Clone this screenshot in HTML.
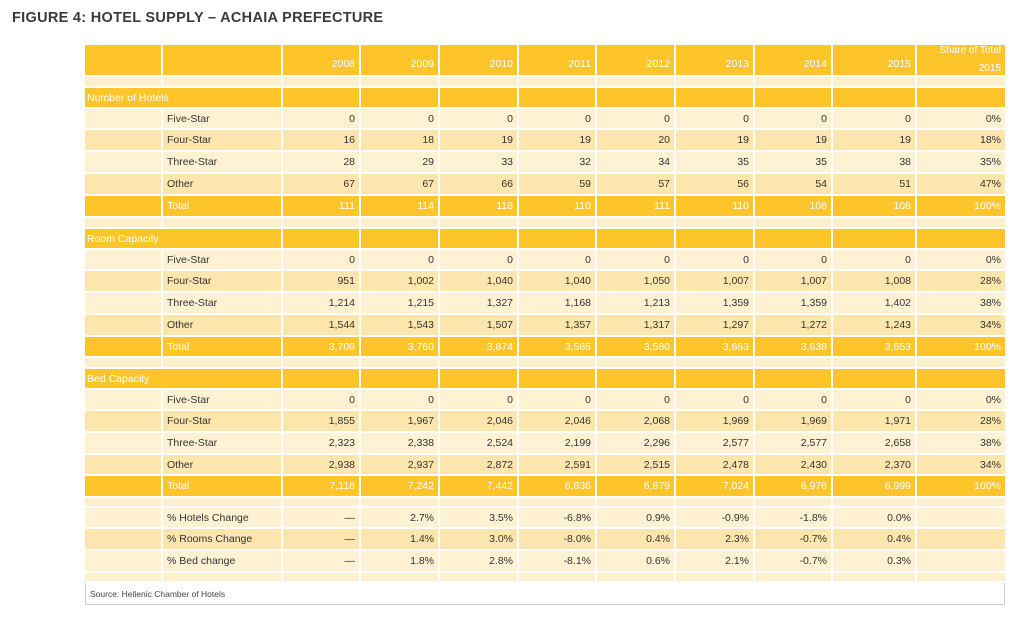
<!DOCTYPE html>
<html><head><meta charset="utf-8"><style>
body{margin:0;width:1024px;height:621px;background:#fff;position:relative;overflow:hidden;font-family:"Liberation Sans",sans-serif;}
#title{position:absolute;left:12px;top:10px;font-size:14.5px;font-weight:bold;color:#3a3a3a;letter-spacing:0.3px}
.c{position:absolute;box-sizing:border-box;font-size:10.5px;color:#333;display:flex;align-items:center;white-space:nowrap;overflow:visible}
</style></head><body>
<div id="title">FIGURE 4: HOTEL SUPPLY – ACHAIA PREFECTURE</div>
<div id="tbl"></div>
<div class="c" style="left:85px;top:583px;width:920px;height:22px;border:1px solid #ccc;border-top:none;padding-left:4px;font-size:8.5px;color:#444">Source: Hellenic Chamber of Hotels</div>
<script>
const years=["2008","2009","2010","2011","2012","2013","2014","2015"];
const hotels5=["0","0","0","0","0","0","0","0","0%"];
const hotels4=["16","18","19","19","20","19","19","19","18%"];
const hotels3=["28","29","33","32","34","35","35","38","35%"];
const hotelsO=["67","67","66","59","57","56","54","51","47%"];
const hotelsT=["111","114","118","110","111","110","108","108","100%"];
const rooms5=["0","0","0","0","0","0","0","0","0%"];
const rooms4=["951","1,002","1,040","1,040","1,050","1,007","1,007","1,008","28%"];
const rooms3=["1,214","1,215","1,327","1,168","1,213","1,359","1,359","1,402","38%"];
const roomsO=["1,544","1,543","1,507","1,357","1,317","1,297","1,272","1,243","34%"];
const roomsT=["3,709","3,760","3,874","3,565","3,580","3,663","3,638","3,653","100%"];
const beds5=["0","0","0","0","0","0","0","0","0%"];
const beds4=["1,855","1,967","2,046","2,046","2,068","1,969","1,969","1,971","28%"];
const beds3=["2,323","2,338","2,524","2,199","2,296","2,577","2,577","2,658","38%"];
const bedsO=["2,938","2,937","2,872","2,591","2,515","2,478","2,430","2,370","34%"];
const bedsT=["7,116","7,242","7,442","6,836","6,879","7,024","6,976","6,999","100%"];
const chHotels=["—","2.7%","3.5%","-6.8%","0.9%","-0.9%","-1.8%","0.0%",""];
const chRooms=["—","1.4%","3.0%","-8.0%","0.4%","2.3%","-0.7%","0.4%",""];
const chBeds=["—","1.8%","2.8%","-8.1%","0.6%","2.1%","-0.7%","0.3%",""];
const edges=[85,163,283,361,440,519,597,676,755,833,917,1005];
const GOLD="#fdc52a",L1="#fef2d3",L2="#fde6ad",SP="#fdf0cc";
const rows=[
 {t:"header",y:45,h:32},{t:"sp",y:77,h:11},
 {t:"sec",y:88,h:21,s:"Number of Hotels"},
 {t:"r",y:109,h:21,l:"Five-Star",v:hotels5,c:L1},{t:"r",y:130,h:22,l:"Four-Star",v:hotels4,c:L2},
 {t:"r",y:152,h:22,l:"Three-Star",v:hotels3,c:L1},{t:"r",y:174,h:22,l:"Other",v:hotelsO,c:L2},
 {t:"tot",y:196,h:22,v:hotelsT},{t:"sp",y:218,h:11},
 {t:"sec",y:229,h:21,s:"Room Capacity"},
 {t:"r",y:250,h:21,l:"Five-Star",v:rooms5,c:L1},{t:"r",y:271,h:22,l:"Four-Star",v:rooms4,c:L2},
 {t:"r",y:293,h:22,l:"Three-Star",v:rooms3,c:L1},{t:"r",y:315,h:22,l:"Other",v:roomsO,c:L2},
 {t:"tot",y:337,h:21,v:roomsT},{t:"sp",y:358,h:11},
 {t:"sec",y:369,h:21,s:"Bed Capacity"},
 {t:"r",y:390,h:21,l:"Five-Star",v:beds5,c:L1},{t:"r",y:411,h:22,l:"Four-Star",v:beds4,c:L2},
 {t:"r",y:433,h:22,l:"Three-Star",v:beds3,c:L1},{t:"r",y:455,h:21,l:"Other",v:bedsO,c:L2},
 {t:"tot",y:476,h:22,v:bedsT},{t:"sp",y:498,h:10},
 {t:"r",y:508,h:21,l:"% Hotels Change",v:chHotels,c:L1},{t:"r",y:529,h:22,l:"% Rooms Change",v:chRooms,c:L2},
 {t:"r",y:551,h:22,l:"% Bed change",v:chBeds,c:L1},{t:"sp",y:573,h:10}
];
const tbl=document.getElementById('tbl');
function cell(x,y,w,h,bg,txt,align,color){
 const d=document.createElement('div');d.className='c';
 d.style.cssText=`left:${x}px;top:${y}px;width:${w}px;height:${h}px;background:${bg};border-right:2px solid #fff;border-bottom:2px solid #fff;justify-content:${align};padding:0 4px;color:${color}`;
 d.textContent=txt;tbl.appendChild(d);return d;
}
rows.forEach(r=>{
 const row=document.createElement('div');
 
 
 tbl.appendChild(row);
 for(let i=0;i<11;i++){
  if(r.t==="sec"&&i===1)continue;
  let x=edges[i],w=edges[i+1]-x;let bg,txt="",al="flex-end",col="#333";
  if(r.t==="header"){bg=GOLD;col="#fff";if(i>=2&&i<10){txt=years[i-2];}}
  else if(r.t==="sp"){bg=SP;}
  else if(r.t==="sec"){bg=GOLD;col="#fff";if(i===0){w=edges[2]-x;txt=r.s;al="flex-start";}}
  else if(r.t==="tot"){bg=GOLD;col="#fff";if(i===1){txt="Total";al="flex-start";}else if(i>=2)txt=r.v[i-2];}
  else {bg=r.c;if(i===1){txt=r.l;al="flex-start";}else if(i>=2)txt=r.v[i-2];}
  const d=cell(x,r.y,w,r.h,bg,txt,al,col);
  if(r.t==="sec"&&i===0)d.style.paddingLeft="2px";
  if(r.t==="header"){d.style.alignItems="flex-end";d.style.paddingBottom="5px";}
  if(r.t==="header"&&i===10){d.style.flexDirection="column";d.style.alignItems="flex-end";d.style.justifyContent="flex-start";d.style.padding="0 4px";d.style.lineHeight="12px";d.innerHTML="<span>Share of Total</span><span style='margin-top:6px'>2015</span>";d.style.fontSize="10px";}
  if(i===10)d.style.borderRight="none";
  
  
 }
});
</script>
</body></html>
